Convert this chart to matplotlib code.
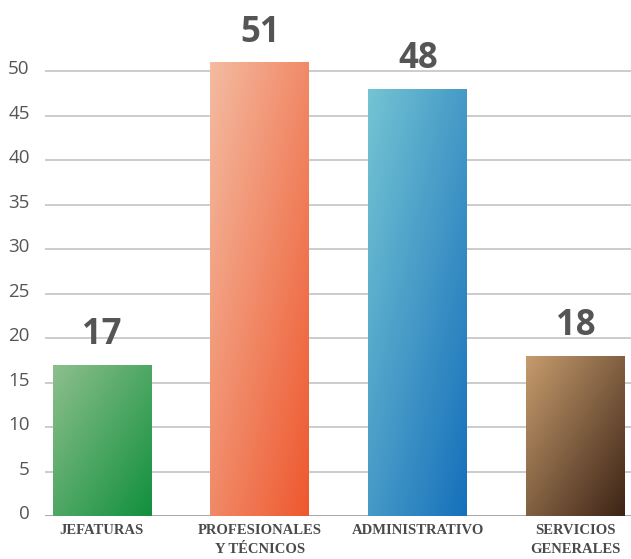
import matplotlib.pyplot as plt
import matplotlib.colors as mcolors
import matplotlib.transforms as mtransforms
import numpy as np

# data
categories = ["JEFATURAS", "PROFESIONALES\nY TÉCNICOS", "ADMINISTRATIVO", "SERVICIOS\nGENERALES"]
values = [17, 51, 48, 18]
yticks = [0, 5, 10, 15, 20, 25, 30, 35, 40, 45, 50]

# gradient colours (top-left, bottom-right)
grad_colors = [("#8dbf8c", "#11903d"),
               ("#f4bba1", "#ee582e"),
               ("#74c4d3", "#1670bb"),
               ("#c69c6d", "#3d2416")]

text_gray = "#555555"

fig = plt.figure(figsize=(6.31, 5.59), dpi=100)
ax = fig.add_axes([45 / 631, 43 / 559, 1 - 45 / 631, 516 / 559])

# gridlines
for t in yticks:
    ax.axhline(t, color="#a0a0a0" if t == 0 else "#c8c8c8", lw=1.3, zorder=1)

width = 0.625
bars = ax.bar(range(len(values)), values, width=width, color="none", zorder=2)

# diagonal gradient inside each bar, light at top-left
xx, yy = np.meshgrid(np.linspace(0, 1, 100), np.linspace(0, 1, 100))
t = (xx + yy) / 2
for bar, (c1, c2), v in zip(bars, grad_colors, values):
    cmap = mcolors.LinearSegmentedColormap.from_list("g", [c1, c2])
    x0 = bar.get_x()
    im = ax.imshow(t, cmap=cmap, extent=[x0, x0 + width, 0, v], origin="upper",
                   aspect="auto", zorder=2, interpolation="bilinear")
    im.set_clip_path(bar)
    ax.text(bar.get_x() + width / 2, v + 1.3, str(v), ha="center", va="bottom",
            fontsize=25, fontweight="bold", color=text_gray, family="Open Sans")

ax.set_xlim(-0.36, 3.35)
ax.set_ylim(0, 58)

for s in ax.spines.values():
    s.set_visible(False)

ax.set_yticks(yticks)
ax.set_yticklabels([str(t) for t in yticks], fontsize=13.5, color=text_gray, family="Open Sans")
ax.tick_params(axis="y", length=0, pad=11)
offset = mtransforms.ScaledTranslation(0, 4 / 100, fig.dpi_scale_trans)
for lab in ax.get_yticklabels():
    lab.set_transform(lab.get_transform() + offset)

ax.set_xticks(range(len(categories)))
ax.set_xticklabels(categories, fontsize=10.5, fontweight="bold", color="#4a4a4a",
                   family="Liberation Serif", linespacing=1.6)
ax.tick_params(axis="x", length=0, pad=6)

fig.savefig("out.png", dpi=100)
